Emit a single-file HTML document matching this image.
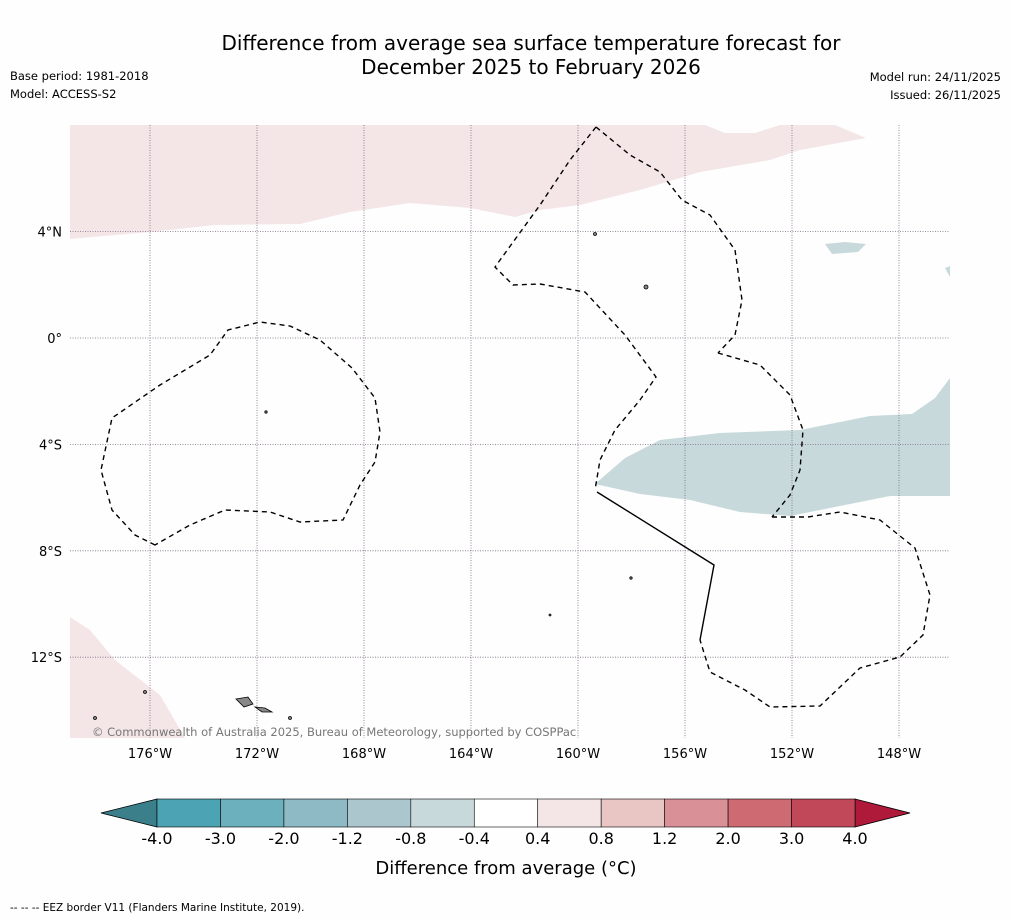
<!DOCTYPE html>
<html><head><meta charset="utf-8">
<style>
body{margin:0;background:#fff;font-family:"DejaVu Sans",sans-serif;}
svg text{font-family:"DejaVu Sans","Liberation Sans",sans-serif;}
</style></head>
<body>
<svg width="1011" height="919" xmlns="http://www.w3.org/2000/svg">
<rect width="1011" height="919" fill="#fefefe"/>
<text x="531" y="50" font-size="20" text-anchor="middle">Difference from average sea surface temperature forecast for</text>
<text x="531" y="74" font-size="20" text-anchor="middle">December 2025 to February 2026</text>
<text x="10" y="80" font-size="11.5">Base period: 1981-2018</text>
<text x="10" y="98" font-size="11.5">Model: ACCESS-S2</text>
<text x="1001" y="81" font-size="11.5" text-anchor="end">Model run: 24/11/2025</text>
<text x="1001" y="99" font-size="11.5" text-anchor="end">Issued: 26/11/2025</text>

<g>
<clipPath id="mc"><rect x="70" y="125" width="880" height="613"/></clipPath>
<g clip-path="url(#mc)">
<path fill="#f4e6e7" d="M70 125 L705 125 L725 133 L755 133 L780 125 L835 125 L866 138 L800 150 L770 160 L700 172 L640 190 L580 205 L540 210 L515 217 L470 208 L410 203 L350 212 L300 224 L215 225 L150 232 L70 239 Z"/>
<path fill="#c8d9dc" d="M595 484 L625 458 L660 440 L720 433 L800 430 L870 416 L912 414 L935 398 L950 378 L950 496 L890 496 L830 508 L790 516 L740 512 L690 500 L640 494 Z"/>
<path fill="#c8d9dc" d="M825 244 L845 242 L866 244 L858 252 L832 254 Z"/>
<path fill="#c8d9dc" d="M945 268 L950 266 L950 277 Z"/>
<path fill="#f4e6e7" d="M70 617 L90 630 L115 660 L160 695 L185 738 L70 738 Z"/>
</g>
<g id="grid" stroke="#7a6a80" stroke-width="0.8" stroke-dasharray="1,1.5" fill="none"></g>
<g fill="none" stroke="#000" stroke-width="1.4" stroke-dasharray="5,4">
<path d="M155 545 L135 535 L112 510 L101 470 L112 418 L160 385 L210 355 L228 330 L260 322 L290 326 L320 340 L352 368 L375 398 L380 432 L375 462 L360 485 L343 520 L300 522 L270 512 L225 510 L190 525 Z"/>
<path d="M596 127 L570 160 L540 205 L495 267 L513 285 L540 284 L585 292 L625 335 L656 377 L640 400 L615 430 L600 460 L595 490"/>
<path d="M596 127 L630 155 L660 172 L682 200 L710 215 L735 250 L742 300 L735 335 L718 353"/>
<path d="M718 353 L760 365 L790 395 L803 430 L800 470 L790 495 L772 517"/>
<path d="M772 517 L808 517 L840 512 L880 520 L915 548 L930 595 L923 635 L900 657 L860 668 L820 706 L770 707 L745 690 L710 672 L700 640"/>
</g>
<path d="M597 492 L714 565 L700 640" fill="none" stroke="#000" stroke-width="1.4"/>
<g fill="#888" stroke="#000" stroke-width="0.8">
<path d="M236 699 L248 697 L253 704 L244 707 Z"/><path d="M255 707 L265 708 L272 712 L262 712 Z"/>
<circle cx="145" cy="692" r="1.5"/><circle cx="95" cy="718" r="1.5"/><circle cx="290" cy="718" r="1.5"/>
<circle cx="646" cy="287" r="2"/><circle cx="595" cy="234" r="1.5"/><circle cx="266" cy="412" r="1.2"/>
<circle cx="631" cy="578" r="1.2"/><circle cx="550" cy="615" r="1"/>
</g>
<text x="92" y="736" font-size="11.5" fill="#777">© Commonwealth of Australia 2025, Bureau of Meteorology, supported by COSPPac</text>
<g id="labels" font-size="13"></g>
</g>

<g id="cbar"></g>
<text x="506" y="874" font-size="18" text-anchor="middle">Difference from average (°C)</text>
<text x="10" y="911" font-size="10.5">--  --  -- EEZ border V11 (Flanders Marine Institute, 2019).</text>
</svg>
<script>
const lonTicks=[-176,-172,-168,-164,-160,-156,-152,-148];
const latTicks=[4,0,-4,-8,-12];
const cbarLevels=["-4.0","-3.0","-2.0","-1.2","-0.8","-0.4","0.4","0.8","1.2","2.0","3.0","4.0"];
const cbarColors=["#4ba3b4","#6cafbd","#8dbac4","#abc6cc","#c8d9dc","#ffffff","#f4e6e7","#e9c6c4","#d99096","#cd6a72","#c04859"];
const NS="http://www.w3.org/2000/svg";
const xLon=l=>150+(l+176)*26.75;
const yLat=l=>338-l*26.6;
const grid=document.getElementById('grid'), labels=document.getElementById('labels');
function mk(t,a,p){const e=document.createElementNS(NS,t);for(const k in a)e.setAttribute(k,a[k]);p.appendChild(e);return e;}
lonTicks.forEach(l=>{const x=xLon(l);
 const ln=mk('line',{x1:x,x2:x,y1:125,y2:738},grid);
 
 
 const t=mk('text',{x:x,y:758,'text-anchor':'middle'},labels);t.textContent=Math.abs(l)+'°W';
 
 });
latTicks.forEach(l=>{const y=yLat(l);
 const ln=mk('line',{x1:70,x2:950,y1:y,y2:y},grid);
 
 
 const t=mk('text',{x:62,y:y+5,'text-anchor':'end'},labels);t.textContent=l===0?'0°':Math.abs(l)+'°'+(l>0?'N':'S');
 
 });
const cb=document.getElementById('cbar');const x0=157,x1=855,y0=799,h=28,w=(x1-x0)/cbarColors.length;
const lt=mk('path',{d:`M${x0} ${y0} L101 ${y0+h/2} L${x0} ${y0+h} Z`,fill:'#3a7f8a',stroke:'#000','stroke-width':0.8},cb);


const rt=mk('path',{d:`M${x1} ${y0} L910 ${y0+h/2} L${x1} ${y0+h} Z`,fill:'#b01a3a',stroke:'#000','stroke-width':0.8},cb);


cbarColors.forEach((c,i)=>{const r=mk('rect',{x:x0+i*w,y:y0,width:w,height:h,fill:c,stroke:'#000','stroke-width':0.6},cb);
 
 });
cbarLevels.forEach((s,i)=>{const t=mk('text',{x:x0+i*w,y:844,'font-size':16,'text-anchor':'middle'},cb);t.textContent=s;
 
 });
</script>
</body></html>
